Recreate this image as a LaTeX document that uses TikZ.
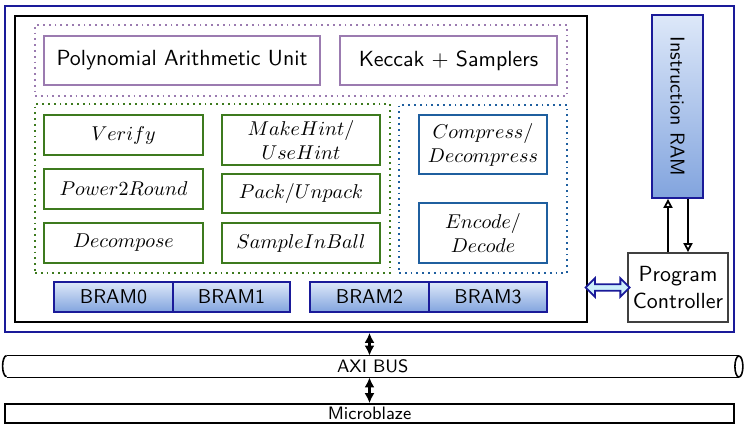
\documentclass[tikz,border=0pt,11pt]{standalone}
\usepackage{tikz}
\usepackage{amsmath}
\usetikzlibrary{arrows.meta,shapes.arrows}

\definecolor{navy}{HTML}{1A1A99}
\definecolor{plum}{HTML}{9B7BB0}
\definecolor{leaf}{HTML}{3D7A1E}
\definecolor{sea}{HTML}{1F5F9F}
\definecolor{ramdark}{HTML}{82A4DE}
\definecolor{ramlight}{HTML}{DDE8F9}

\begin{document}
\begin{tikzpicture}[x=0.5pt,y=-0.5pt,font=\sffamily,
  box/.style={draw,line width=0.9pt,inner sep=0pt,align=center},
  grp/.style={draw,dotted,line width=0.9pt,inner sep=0pt},
  pbox/.style={box,draw=plum,minimum height=24.5pt},
  gbox/.style={box,draw=leaf,minimum width=79.5pt,minimum height=20pt,font=\small},
  bbox/.style={box,draw=sea,minimum width=64pt,minimum height=30pt,font=\small},
  ram/.style={box,draw=navy,top color=ramlight,bottom color=ramdark,minimum height=15pt,font=\small\sffamily},
  arr/.style={line width=0.9pt,-{Triangle[open,length=4.5pt,width=4.5pt]}},
  bus/.style={line width=1.1pt,{Latex[length=5pt,width=5pt]}-{Latex[length=5pt,width=5pt]}},
  link/.style={double arrow,draw=navy,fill=cyan!20,line width=0.9pt,inner sep=1.2pt,
    double arrow head extend=3pt,minimum height=22pt,minimum width=8.5pt}]
\useasboundingbox (0,0) rectangle (745,428);

\node[draw=navy,line width=0.8pt,minimum width=364.5pt,minimum height=163pt] (soc) at (369.5,169) {};
\node[draw,line width=1.2pt,minimum width=286pt,minimum height=153pt] (core) at (301,169) {};

\node[grp,draw=plum,minimum width=266pt,minimum height=35.5pt] (arith) at (301,60.5) {};
\node[pbox,minimum width=138pt] (pau) at (182,60.5) {Polynomial Arithmetic Unit};
\node[pbox,minimum width=108.5pt] (keccak) at (448.5,60.5) {Keccak $+$ Samplers};

\node[grp,draw=leaf,minimum width=177.5pt,minimum height=84.5pt] (hint) at (212.5,188.5) {};
\node[gbox] (verify) at (123.5,135) {$Verify$};
\node[gbox,minimum width=79pt,minimum height=25pt] (mkhint) at (301,140) {$MakeHint/$\\$UseHint$};
\node[gbox] (p2r) at (123.5,189) {$Power2Round$};
\node[gbox,minimum width=79pt,minimum height=19.5pt] (pack) at (301,193.5) {$Pack/Unpack$};
\node[gbox] (decomp) at (123.5,243) {$Decompose$};
\node[gbox,minimum width=79pt] (sib) at (301,243) {$SampleInBall$};

\node[grp,draw=sea,minimum width=84pt,minimum height=84pt] (codec) at (483,189) {};
\node[bbox,minimum height=29.5pt] (compress) at (483,144.5) {$Compress/$\\$Decompress$};
\node[bbox] (encode) at (483,233) {$Encode/$\\$Decode$};

\node[ram,minimum width=59.5pt] (bram0) at (113.5,297) {BRAM0};
\node[ram,minimum width=58.5pt] (bram1) at (231.5,297) {BRAM1};
\node[ram,minimum width=59.5pt] (bram2) at (369.5,297) {BRAM2};
\node[ram,minimum width=59pt] (bram3) at (488,297) {BRAM3};

\node[ram,rotate=-90,minimum width=91.5pt,minimum height=25.5pt] (iram) at (677.5,106.5) {Instruction RAM};
\node[box,draw=black!75,minimum width=50pt,minimum height=34.5pt] (pc) at (678,287.5) {Program\\Controller};

% bus drawn as a lying cylinder
\node[inner sep=0pt,minimum width=365.75pt,minimum height=10.5pt,font=\footnotesize\sffamily] (axi) at (372.75,366.5) {AXI BUS};
\draw[line width=0.8pt] (axi.north west) -- (axi.north east) (axi.south west) -- (axi.south east);
\draw[line width=0.8pt] (axi.east) ellipse [x radius=2pt,y radius=5.25pt];
\draw[line width=0.8pt] (axi.north west) arc [start angle=90,end angle=270,x radius=2pt,y radius=5.25pt];
\node[draw,line width=0.8pt,inner sep=0pt,minimum width=364.5pt,minimum height=9.5pt,font=\footnotesize\sffamily] (mb) at (369.5,413.5) {Microblaze};

\draw[arr] ([xshift=-5pt]pc.north) -- ([xshift=-5pt]pc.north |- iram.east);
\draw[arr] ([xshift=5pt]pc.north |- iram.east) -- ([xshift=5pt]pc.north);
\path (core.east |- pc.west) -- node[link] (lnk) {} (pc.west);
\draw[bus] (soc.south) -- (soc.south |- axi.north);
\draw[bus] (soc.south |- axi.south) -- (soc.south |- mb.north);

\end{tikzpicture}
\end{document}
